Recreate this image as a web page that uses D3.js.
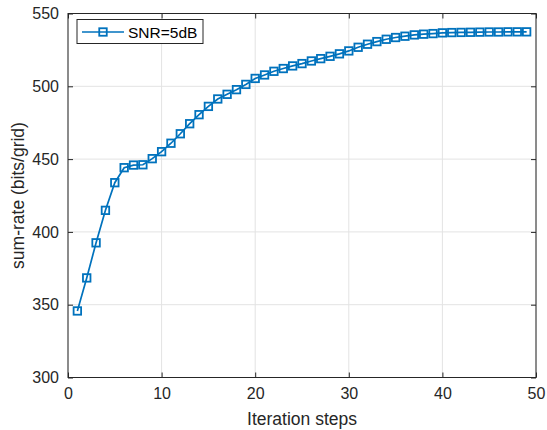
<!DOCTYPE html>
<html>
<head>
<meta charset="utf-8">
<script src="https://cdn.jsdelivr.net/npm/d3@7"></script>
<style>
  html, body { margin: 0; padding: 0; background: #fff; }
  svg { display: block; font-family: "Liberation Sans", Arial, Helvetica, sans-serif; }
</style>
</head>
<body>
<svg id="chart" width="547" height="430"></svg>
<script>
// Sum-rate versus iteration count
const steps = d3.range(1, 50);
const sumRate = [
  345.7, 368.4, 392.5, 414.8, 433.8, 444.1, 445.9, 446.1, 450.3, 455.1,
  460.9, 467.4, 474.3, 480.5, 486.2, 491.3, 494.5, 497.7, 501.3, 505.4,
  507.8, 510.3, 512.2, 514.0, 515.6, 517.4, 519.0, 520.6, 522.3, 524.3,
  526.8, 528.9, 530.7, 532.3, 533.5, 534.4, 535.3, 535.8, 536.2, 536.7,
  536.9, 537.0, 537.1, 537.2, 537.3, 537.3, 537.4, 537.4, 537.4
];
const xTicks = [0, 10, 20, 30, 40, 50];
const yTicks = [300, 350, 400, 450, 500, 550];
const seriesName = "SNR=5dB";
const xLabel = "Iteration steps";
const yLabel = "sum-rate (bits/grid)";

const blue = "#0072BD";
const axisColor = "#262626";
const gridColor = "#e3e3e3";

const svg = d3.select("#chart");
const plotL = 68, plotR = 536, plotT = 13.5, plotB = 377.5;

const x = d3.scaleLinear().domain([0, 50]).range([plotL, plotR]);
const y = d3.scaleLinear().domain([300, 550]).range([plotB, plotT]);

// grid
const grid = svg.append("g");
grid.selectAll(".gx").data(xTicks).join("line")
  .attr("x1", d => x(d)).attr("x2", d => x(d))
  .attr("y1", plotT).attr("y2", plotB)
  .attr("stroke", gridColor).attr("stroke-width", 1);
grid.selectAll(".gy").data(yTicks).join("line")
  .attr("x1", plotL).attr("x2", plotR)
  .attr("y1", d => y(d)).attr("y2", d => y(d))
  .attr("stroke", gridColor).attr("stroke-width", 1);

// axes (ticks pointing inward, box on all four sides)
const tickLen = 5;
const fmt = d3.format("d");
function styleAxis(g) {
  g.select(".domain").remove();
  g.selectAll(".tick line").attr("stroke", axisColor).attr("stroke-width", 1);
  g.selectAll(".tick text").attr("fill", axisColor).attr("font-size", "16px")
    .attr("font-family", "Liberation Sans, Arial, sans-serif");
}
svg.append("g").attr("transform", `translate(0,${plotB})`)
  .call(d3.axisBottom(x).tickValues(xTicks).tickFormat(fmt).tickSizeInner(-tickLen).tickSizeOuter(0).tickPadding(10))
  .call(styleAxis);
svg.append("g").attr("transform", `translate(0,${plotT})`)
  .call(d3.axisTop(x).tickValues(xTicks).tickFormat("").tickSizeInner(-tickLen).tickSizeOuter(0))
  .call(styleAxis);
svg.append("g").attr("transform", `translate(${plotL},0)`)
  .call(d3.axisLeft(y).tickValues(yTicks).tickFormat(fmt).tickSizeInner(-tickLen).tickSizeOuter(0).tickPadding(9))
  .call(styleAxis);
svg.append("g").attr("transform", `translate(${plotR},0)`)
  .call(d3.axisRight(y).tickValues(yTicks).tickFormat("").tickSizeInner(-tickLen).tickSizeOuter(0))
  .call(styleAxis);

svg.append("rect")
  .attr("x", plotL).attr("y", plotT)
  .attr("width", plotR - plotL).attr("height", plotB - plotT)
  .attr("fill", "none").attr("stroke", axisColor).attr("stroke-width", 1);

// series
const data = steps.map((s, i) => ({ s, v: sumRate[i] }));
svg.append("path")
  .datum(data)
  .attr("fill", "none")
  .attr("stroke", blue)
  .attr("stroke-width", 1.7)
  .attr("d", d3.line().x(d => x(d.s)).y(d => y(d.v)));

const m = 7.5;
svg.append("g").selectAll("rect").data(data).join("rect")
  .attr("x", d => x(d.s) - m / 2)
  .attr("y", d => y(d.v) - m / 2)
  .attr("width", m).attr("height", m)
  .attr("fill", "none").attr("stroke", blue).attr("stroke-width", 1.8);

// axis labels
svg.append("text")
  .attr("x", (plotL + plotR) / 2).attr("y", 425)
  .attr("text-anchor", "middle").attr("font-size", "17.5px").attr("fill", axisColor)
  .text(xLabel);
svg.append("text")
  .attr("transform", `translate(24,${(plotT + plotB) / 2}) rotate(-90)`)
  .attr("text-anchor", "middle").attr("font-size", "17.5px").attr("fill", axisColor)
  .text(yLabel);

// legend
const lg = svg.append("g");
lg.append("rect")
  .attr("x", 77).attr("y", 19.5).attr("width", 126).attr("height", 24)
  .attr("fill", "#fff").attr("stroke", axisColor).attr("stroke-width", 1);
lg.append("line")
  .attr("x1", 82).attr("x2", 124).attr("y1", 32).attr("y2", 32)
  .attr("stroke", blue).attr("stroke-width", 1.7);
lg.append("rect")
  .attr("x", 103 - m / 2).attr("y", 32 - m / 2).attr("width", m).attr("height", m)
  .attr("fill", "none").attr("stroke", blue).attr("stroke-width", 1.8);
lg.append("text")
  .attr("x", 128).attr("y", 37.5)
  .attr("font-size", "15.5px").attr("fill", "#000")
  .text(seriesName);
</script>
</body>
</html>
